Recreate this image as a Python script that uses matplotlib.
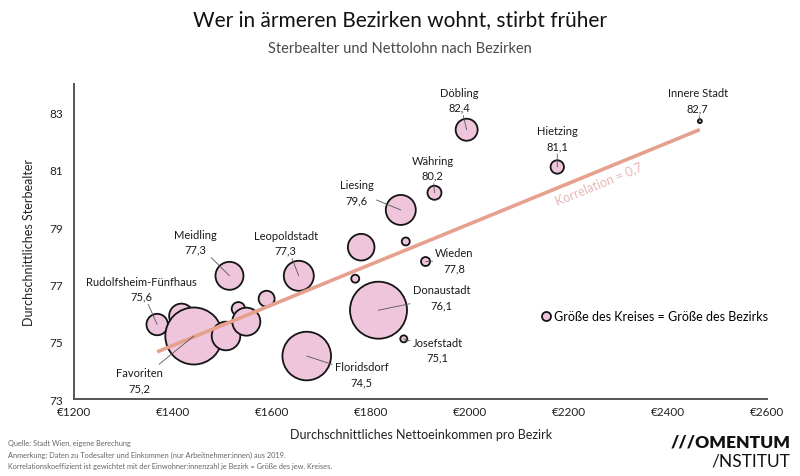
import numpy as np
import matplotlib
matplotlib.use("Agg")
import matplotlib.pyplot as plt
from matplotlib.lines import Line2D

plt.rcParams["font.family"] = ["Lato", "DejaVu Sans"]

# Bezirke: Nettoeinkommen (EUR), Sterbealter (Jahre), relative Bezirksgroesse
bezirke = [
    "Rudolfsheim-Fünfhaus", "", "Favoriten", "", "Meidling", "", "", "",
    "Leopoldstadt", "Floridsdorf", "", "", "Donaustadt", "Liesing",
    "Döbling", "Innere Stadt", "Hietzing", "Währing", "", "Wieden", "Josefstadt",
]
einkommen = [1368, 1417, 1442, 1507, 1514, 1532, 1548, 1589,
             1654, 1670, 1780, 1768, 1815, 1860,
             1993, 2464, 2176, 1928, 1870, 1910, 1866]
sterbealter = [75.6, 75.9, 75.2, 75.2, 77.3, 76.15, 75.7, 76.5,
               77.3, 74.5, 78.3, 77.2, 76.1, 79.6,
               82.4, 82.7, 81.1, 80.2, 78.5, 77.8, 75.1]
groesse = [10.7, 12.3, 28.5, 14.3, 14.0, 6.7, 14.0, 8.0,
           15.0, 24.3, 13.3, 4.0, 28.5, 15.0,
           11.0, 2.0, 6.7, 7.0, 4.0, 4.5, 3.5]
# Regressionsgerade (gewichtet)
trend_steigung = 0.00708
trend_achse = 64.96

x_ticks = [1200, 1400, 1600, 1800, 2000, 2200, 2400, 2600]
y_ticks = [73, 75, 77, 79, 81, 83]

# label offsets in pixels (dx, dy up)
label_offsets = {
    "Döbling": (-7, 30), "Innere Stadt": (-2, 21), "Hietzing": (0, 29),
    "Währing": (-2, 25), "Liesing": (-44, 18), "Meidling": (-34, 34),
    "Leopoldstadt": (-13, 33), "Rudolfsheim-Fünfhaus": (-16, 36),
    "Favoriten": (-54, -44), "Floridsdorf": (55, -18), "Wieden": (29, 1),
    "Donaustadt": (63, 13), "Josefstadt": (34, -11),
}

fig = plt.figure(figsize=(8, 4.77), dpi=100)
ax = fig.add_axes([0.0925, 0.1614, 0.8665, 0.6606])

px = 72 / fig.dpi
sizes = [(2 * r * px) ** 2 for r in groesse]
ax.scatter(einkommen, sterbealter, s=sizes, color="#efc5dc",
           edgecolor="#141414", linewidth=1.3, zorder=2)

# trend line
xs = np.array([min(einkommen), max(einkommen)])
ax.plot(xs, trend_achse + trend_steigung * xs, color="#e6a08e", lw=2.6,
        solid_capstyle="butt", zorder=3)

# correlation label rotated along the line
xt = 2260
ax.text(xt, trend_achse + trend_steigung * xt - 0.42, "Korrelation = 0,7",
        rotation=np.degrees(np.arctan(trend_steigung)), rotation_mode="anchor",
        transform_rotates_text=True, ha="center", va="center",
        color="#e8b6b6", fontsize=9, zorder=4)

for name, x, y in zip(bezirke, einkommen, sterbealter):
    if not name:
        continue
    dx, dy = label_offsets[name]
    ax.annotate(f"{name}\n{y:.1f}".replace(".", ","), xy=(x, y),
                xytext=(dx * px, dy * px), textcoords="offset points",
                ha="center", va="center", fontsize=8, linespacing=1.45,
                color="#1a1a1a", zorder=5,
                arrowprops=dict(arrowstyle="-", color="#555555", lw=0.6,
                                shrinkA=0, shrinkB=0))

ax.set_xlim(1200, 2600)
ax.set_ylim(73, 84)
ax.set_xticks(x_ticks)
ax.set_xticklabels([f"€{v}" for v in x_ticks])
ax.set_yticks(y_ticks)
ax.tick_params(length=0, labelsize=8.5, colors="#222222")
ax.tick_params(axis="y", pad=8)
ax.tick_params(axis="x", pad=5)
for side in ["top", "right"]:
    ax.spines[side].set_visible(False)
for side in ["left", "bottom"]:
    ax.spines[side].set_color("#555555")
    ax.spines[side].set_linewidth(1.4)

ax.set_xlabel("Durchschnittliches Nettoeinkommen pro Bezirk", fontsize=9,
              color="#222222", labelpad=8)
ax.set_ylabel("Durchschnittliches Sterbealter", fontsize=9, color="#222222",
              labelpad=10)

handle = Line2D([], [], marker="o", ls="", markersize=6.5,
                markerfacecolor="#efc5dc", markeredgecolor="#141414",
                markeredgewidth=1.3)
ax.legend([handle], ["Größe des Kreises = Größe des Bezirks"], frameon=False,
          loc="center left", bbox_to_anchor=(0.665, 0.262), handletextpad=0.1,
          handlelength=1.0, fontsize=9, borderaxespad=0)

fig.text(0.5, 0.958, "Wer in ärmeren Bezirken wohnt, stirbt früher",
         ha="center", va="center", fontsize=15, color="#111111")
fig.text(0.5, 0.897, "Sterbealter und Nettolohn nach Bezirken",
         ha="center", va="center", fontsize=10.5, color="#4a4a4a")

fig.text(0.01, 0.071, "Quelle: Stadt Wien, eigene Berechung", fontsize=5.3,
         color="#666666", va="center")
fig.text(0.01, 0.046,
         "Anmerkung: Daten zu Todesalter und Einkommen (nur Arbeitnehmer:innen) aus 2019.",
         fontsize=5.3, color="#666666", va="center")
fig.text(0.01, 0.022,
         "Korrelationskoeffizient ist gewichtet mit der Einwohner:innenzahl je Bezirk = Größe des jew. Kreises.",
         fontsize=5.3, color="#666666", va="center")

fig.text(0.988, 0.072, "///OMENTUM", ha="right", va="center", fontsize=12.5,
         fontweight="heavy", color="#111111")
fig.text(0.988, 0.033, "/NSTITUT", ha="right", va="center", fontsize=12.5,
         color="#111111")

fig.savefig("out.png", dpi=100)
